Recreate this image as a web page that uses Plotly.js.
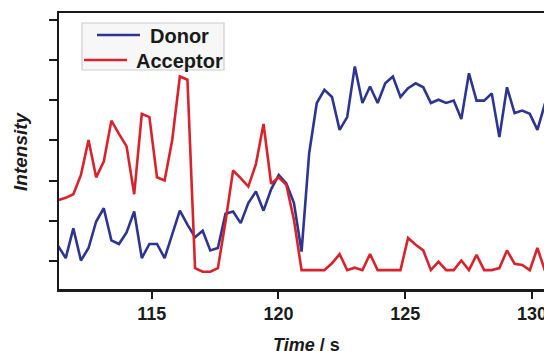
<!DOCTYPE html>
<html>
<head>
<meta charset="utf-8">
<script src="https://cdn.plot.ly/plotly-3.0.1.min.js"></script>
<style>html,body{margin:0;padding:0;background:#fff;overflow:hidden}#chart{width:544px;height:351px}</style>
</head>
<body>
<div id="chart"></div>
<script>
const time = [111.31,111.61,111.91,112.21,112.51,112.81,113.11,113.41,113.71,114.01,
  114.31,114.61,114.91,115.21,115.51,115.81,116.11,116.41,116.71,117.01,
  117.31,117.61,117.91,118.21,118.51,118.81,119.11,119.41,119.71,120.01,
  120.31,120.61,120.91,121.21,121.51,121.81,122.11,122.41,122.71,123.01,
  123.31,123.61,123.91,124.21,124.51,124.81,125.11,125.41,125.71,126.01,
  126.31,126.61,126.91,127.21,127.51,127.81,128.11,128.41,128.71,129.01,
  129.31,129.61,129.91,130.21,130.51];
const donor = [0.37,0.07,0.81,0.01,0.32,0.98,1.31,0.51,0.42,0.71,
  1.23,0.07,0.42,0.42,0.07,0.65,1.25,0.90,0.59,0.75,
  0.26,0.32,1.17,1.23,0.94,1.44,1.73,1.25,1.78,2.14,
  1.93,1.44,0.23,2.68,3.93,4.26,4.08,3.26,3.58,4.84,
  3.93,4.34,3.93,4.42,4.59,4.08,4.30,4.42,4.32,3.93,
  4.01,3.93,3.99,3.53,4.67,3.99,3.99,4.17,3.08,4.32,
  3.68,3.74,3.66,3.26,3.92];
const acceptor = [1.51,1.57,1.66,2.14,3.01,2.08,2.47,3.49,3.16,2.85,
  1.66,3.66,3.58,2.08,2.00,3.01,4.59,4.51,-0.18,-0.27,
  -0.27,-0.18,0.97,2.25,2.06,1.85,2.41,3.41,1.92,2.08,
  1.89,1.02,-0.23,-0.23,-0.23,-0.23,-0.06,0.17,-0.23,-0.17,
  -0.23,0.17,-0.23,-0.23,-0.23,-0.23,0.57,0.40,0.26,-0.23,
  -0.02,-0.23,-0.23,0.01,-0.23,0.15,-0.23,-0.23,-0.18,0.26,
  -0.07,-0.10,-0.23,0.32,-0.25];
const seriesNames = ["Donor", "Acceptor"];
const xTicks = [115, 120, 125, 130];
const yTicks = [0, 1, 2, 3, 4, 5, 6];

const FONT = "Liberation Sans, Arial, Helvetica, sans-serif";
const INK = "#1a1a1a";
const COLORS = ["#2e3590", "#d8232c"];

const traces = seriesNames.map((n, i) => ({
  x: time, y: i === 0 ? donor : acceptor, name: n, type: "scatter", mode: "lines",
  line: {color: COLORS[i], width: 2.6}
}));

// plot-area pixel helpers (plot area: x 59..544, y 13..289)
const PX = px => (px - 59) / 485;
const PY = py => (289 - py) / 276;

// hand-placed legend (box, line swatches, labels)
const legendShapes = [
  {type: "rect", xref: "paper", yref: "paper", x0: PX(82), x1: PX(224), y0: PY(70), y1: PY(23),
   fillcolor: "#f7f7f7", line: {color: "#cdcdcd", width: 1.2}, layer: "above"},
  {type: "line", xref: "paper", yref: "paper", x0: PX(97), x1: PX(140), y0: PY(35), y1: PY(35),
   line: {color: COLORS[0], width: 2.6}, layer: "above"},
  {type: "line", xref: "paper", yref: "paper", x0: PX(84), x1: PX(127), y0: PY(60), y1: PY(60),
   line: {color: COLORS[1], width: 2.6}, layer: "above"}
];
const legendLabels = [
  {text: "<b>" + seriesNames[0] + "</b>", xref: "paper", yref: "paper", x: PX(148), y: PY(36),
   xanchor: "left", yanchor: "middle", showarrow: false,
   font: {family: FONT, size: 20, color: INK}},
  {text: "<b>" + seriesNames[1] + "</b>", xref: "paper", yref: "paper", x: PX(134), y: PY(61),
   xanchor: "left", yanchor: "middle", showarrow: false,
   font: {family: FONT, size: 20, color: INK}}
];

const layout = {
  width: 544, height: 351,
  margin: {l: 59, r: 0, t: 13, b: 62, pad: 0},
  paper_bgcolor: "#fff", plot_bgcolor: "#fff",
  showlegend: false,
  xaxis: {range: [111.345, 130.47], tickvals: xTicks, ticktext: xTicks.map(String),
    ticks: "outside", ticklen: 7, tickwidth: 2, tickcolor: INK,
    ticklabeloverflow: "allow",
    showline: true, linewidth: 2.5, linecolor: INK, mirror: true,
    showgrid: false, zeroline: false,
    tickfont: {family: FONT, size: 18, weight: "bold", color: INK}},
  yaxis: {range: [-0.70, 6.17], tickvals: yTicks,
    ticks: "outside", ticklen: 8, tickwidth: 2, tickcolor: INK,
    showticklabels: false,
    showline: true, linewidth: 2.5, linecolor: INK, mirror: false,
    showgrid: false, zeroline: false},
  shapes: legendShapes,
  annotations: [
    {text: "<b><i>Intensity</i></b>", xref: "paper", yref: "paper",
     x: PX(20), y: PY(151), xanchor: "center", yanchor: "middle", textangle: -90,
     showarrow: false, font: {family: FONT, size: 19, color: INK}},
    {text: "<b><i>Time</i> / s</b>", xref: "paper", yref: "paper",
     x: PX(306), y: PY(345), xanchor: "center", yanchor: "middle",
     showarrow: false, font: {family: FONT, size: 18, color: INK}}
  ].concat(legendLabels)
};

Plotly.newPlot("chart", traces, layout, {displayModeBar: false, staticPlot: true});
</script>
</body>
</html>
